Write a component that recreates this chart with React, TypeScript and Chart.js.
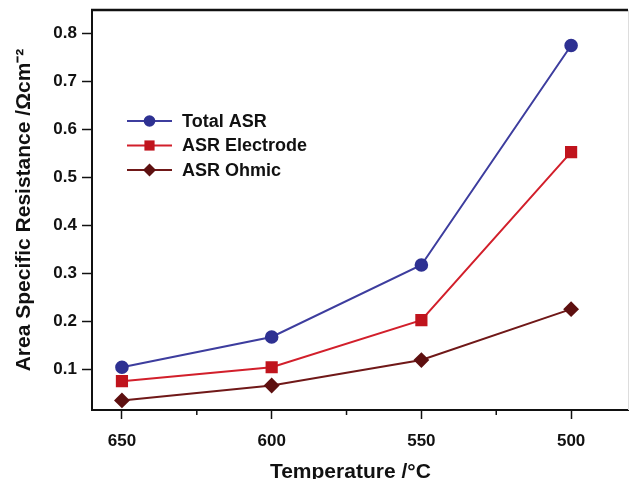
import React, { useEffect, useRef } from 'react';
import { Chart, registerables } from 'chart.js';

Chart.register(...registerables);

const temperatures = [650, 600, 550, 500];
const totalASR = [0.104, 0.167, 0.317, 0.774];
const electrodeASR = [0.075, 0.104, 0.202, 0.552];
const ohmicASR = [0.035, 0.066, 0.119, 0.225];
const seriesNames = ['Total ASR', 'ASR Electrode', 'ASR Ohmic'];
const majorTicks = [650, 600, 550, 500];
const minorTicks = [625, 575, 525];
const yTicks = [0.1, 0.2, 0.3, 0.4, 0.5, 0.6, 0.7, 0.8];
const xTitle = 'Temperature /°C';
const yTitle = 'Area Specific Resistance /Ωcm⁻²';

const FONT = '"Liberation Sans", Arial, Helvetica, sans-serif';
const INK = '#111111';

function drawMarker(ctx: CanvasRenderingContext2D, style: string, x: number, y: number, r: number) {
  ctx.beginPath();
  if (style === 'circle') {
    ctx.arc(x, y, r, 0, Math.PI * 2);
  } else if (style === 'rect') {
    const s = Math.SQRT1_2 * r;
    ctx.rect(x - s, y - s, 2 * s, 2 * s);
  } else {
    ctx.moveTo(x, y - r);
    ctx.lineTo(x + r, y);
    ctx.lineTo(x, y + r);
    ctx.lineTo(x - r, y);
    ctx.closePath();
  }
  ctx.fill();
}

const decorPlugin = {
  id: 'decor',
  afterDraw(chart: any) {
    const { ctx, chartArea: ca, scales } = chart;
    const xs = scales.x;
    ctx.save();
    // top frame
    ctx.strokeStyle = INK;
    ctx.lineWidth = 2.5;
    ctx.beginPath();
    ctx.moveTo(ca.left - 1, ca.top);
    ctx.lineTo(ca.right, ca.top);
    ctx.stroke();
    // faint right edge
    ctx.strokeStyle = '#dddddd';
    ctx.lineWidth = 1;
    ctx.beginPath();
    ctx.moveTo(ca.right + 0.5, ca.top);
    ctx.lineTo(ca.right + 0.5, ca.bottom);
    ctx.stroke();
    // minor ticks
    ctx.strokeStyle = INK;
    ctx.lineWidth = 1.5;
    minorTicks.forEach((v) => {
      const px = xs.getPixelForValue(v);
      ctx.beginPath();
      ctx.moveTo(px, ca.bottom);
      ctx.lineTo(px, ca.bottom + 5);
      ctx.stroke();
    });
    // x title
    ctx.font = 'bold 21px ' + FONT;
    ctx.fillStyle = INK;
    ctx.textAlign = 'center';
    ctx.textBaseline = 'alphabetic';
    ctx.fillText(xTitle, ca.left + ca.width * 0.482, chart.height - 1);
    // legend
    chart.data.datasets.forEach((ds: any, i: number) => {
      const y = ca.top + 111 + i * 24.5;
      const x0 = ca.left + 35;
      const x1 = ca.left + 80;
      ctx.strokeStyle = ds.borderColor;
      ctx.lineWidth = ds.borderWidth;
      ctx.beginPath();
      ctx.moveTo(x0, y);
      ctx.lineTo(x1, y);
      ctx.stroke();
      ctx.fillStyle = ds.pointBackgroundColor;
      drawMarker(ctx, ds.pointStyle, (x0 + x1) / 2, y, ds.pointRadius);
      ctx.fillStyle = INK;
      ctx.font = 'bold 18px ' + FONT;
      ctx.textAlign = 'left';
      ctx.textBaseline = 'middle';
      ctx.fillText(ds.label, ca.left + 90, y + 1);
    });
    ctx.restore();
  },
};

export default function App() {
  const canvasRef = useRef<HTMLCanvasElement | null>(null);

  useEffect(() => {
    if (!canvasRef.current) return;
    const mk = (vals: number[]) => temperatures.map((t, i) => ({ x: t, y: vals[i] }));
    const chart = new Chart(canvasRef.current, {
      type: 'line',
      data: {
        datasets: [
          {
            label: seriesNames[0],
            data: mk(totalASR),
            borderColor: '#3d3d9e',
            backgroundColor: '#2e3192',
            pointBackgroundColor: '#2e3192',
            pointBorderColor: '#2e3192',
            pointStyle: 'circle',
            pointRadius: 5.8,
            borderWidth: 2,
          },
          {
            label: seriesNames[1],
            data: mk(electrodeASR),
            borderColor: '#d21f2b',
            backgroundColor: '#c0141d',
            pointBackgroundColor: '#c0141d',
            pointBorderColor: '#c0141d',
            pointStyle: 'rect',
            pointRadius: 7.2,
            borderWidth: 2,
          },
          {
            label: seriesNames[2],
            data: mk(ohmicASR),
            borderColor: '#701818',
            backgroundColor: '#5e1010',
            pointBackgroundColor: '#5e1010',
            pointBorderColor: '#5e1010',
            pointStyle: 'rectRot',
            pointRadius: 6.5,
            borderWidth: 2,
          },
        ],
      },
      options: {
        animation: false,
        responsive: false,
        layout: { autoPadding: false, padding: { left: 0, top: 10, right: 2, bottom: 0 } },
        plugins: { legend: { display: false }, tooltip: { enabled: false } },
        scales: {
          x: {
            type: 'linear',
            reverse: true,
            min: 481,
            max: 660,
            afterBuildTicks: (s: any) => {
              s.ticks = majorTicks.map((v) => ({ value: v }));
            },
            afterFit: (s: any) => {
              s.height = 69;
              s.paddingLeft = 0;
              s.paddingRight = 0;
            },
            border: { display: true, color: INK, width: 2 },
            grid: { display: true, drawOnChartArea: false, drawTicks: true, tickLength: 9, tickColor: INK, tickWidth: 1.5 },
            ticks: {
              color: INK,
              padding: 12,
              maxRotation: 0,
              font: { family: FONT, size: 17, weight: 'bold' },
              callback: (v: any) => String(v),
            },
          },
          y: {
            type: 'linear',
            min: 0.015,
            max: 0.848,
            afterBuildTicks: (s: any) => {
              s.ticks = yTicks.map((v) => ({ value: v }));
            },
            afterFit: (s: any) => {
              s.width = 92;
              s.paddingTop = 0;
              s.paddingBottom = 0;
            },
            border: { display: true, color: INK, width: 2 },
            grid: { display: true, drawOnChartArea: false, drawTicks: true, tickLength: 10, tickColor: INK, tickWidth: 1.5 },
            ticks: {
              color: INK,
              padding: 5,
              font: { family: FONT, size: 17, weight: 'bold' },
              callback: (v: any) => Number(v).toFixed(1),
            },
            title: {
              display: true,
              text: yTitle,
              color: INK,
              padding: { top: 12, bottom: 0 },
              font: { family: FONT, size: 21, weight: 'bold' },
            },
          },
        },
      },
      plugins: [decorPlugin],
    } as any);
    return () => chart.destroy();
  }, []);

  return (
    <div style={{ position: 'fixed', left: 0, top: 0, width: 630, height: 479, background: '#fff' }}>
      <canvas ref={canvasRef} width={630} height={479} style={{ display: 'block' }} />
    </div>
  );
}
